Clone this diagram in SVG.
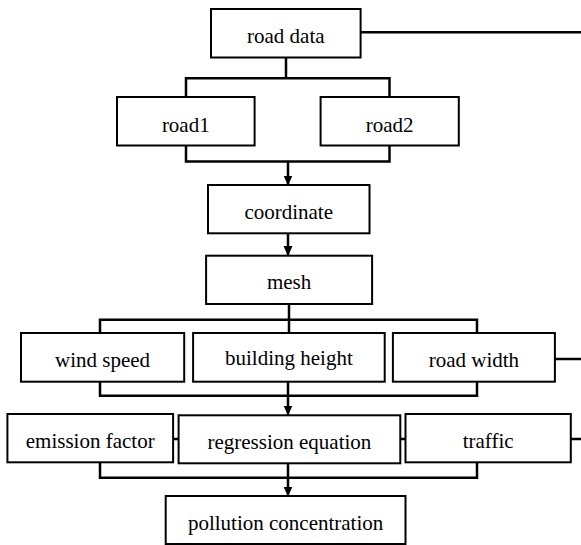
<svg xmlns="http://www.w3.org/2000/svg" width="581" height="545" viewBox="0 0 581 545">
<style>
.box{fill:#fff;stroke:#000;stroke-width:2}
text{font-family:'Liberation Serif','Times New Roman','DejaVu Serif',serif;font-size:21px;fill:#000;text-anchor:middle}
.ln{fill:none;stroke:#000;stroke-width:2.5}
</style>
<defs>
<marker id="ah" markerUnits="userSpaceOnUse" markerWidth="10" markerHeight="10" refX="9" refY="5" orient="auto" viewBox="0 0 10 10">
<path d="M0,0.5 L10,5 L0,9.5 Z" fill="#000"/>
</marker>
</defs>
<rect width="581" height="545" fill="#fff"/>
<g id="connectors">
<path class="ln" d="M360.6,32.3 H581"/>
<path class="ln" d="M286,57.5 V78.3 M186,97 V78.3 H389.5 V97"/>
<path class="ln" d="M186,145.5 V161.5 H389.5 V145.5"/>
<path class="ln" d="M288,161.5 V184.5" marker-end="url(#ah)"/>
<path class="ln" d="M288,233.3 V255" marker-end="url(#ah)"/>
<path class="ln" d="M289,304 V319.7 M100,333 V319.7 H477 V333 M289,319.7 V333"/>
<path class="ln" d="M554.9,359 H581"/>
<path class="ln" d="M100,381.7 V395.7 H477 V381.7"/>
<path class="ln" d="M288,381.7 V414.5" marker-end="url(#ah)"/>
<path class="ln" d="M173.1,439 H178.6 M400.3,439 H405.5 M570.8,439 H581"/>
<path class="ln" d="M100,462.3 V477.7 H477 V462.3"/>
<path class="ln" d="M288,463.3 V495.5" marker-end="url(#ah)"/>
</g>
<g id="road-data"><rect class="box" x="211" y="9" width="149.6" height="48.5"/><text font-family="Liberation Serif, serif" x="285.8" y="43">road data</text></g>
<g id="road1"><rect class="box" x="117" y="97" width="137.6" height="48.5"/><text font-family="Liberation Serif, serif" x="185.8" y="131.5">road1</text></g>
<g id="road2"><rect class="box" x="320.6" y="97" width="138.2" height="48.5"/><text font-family="Liberation Serif, serif" x="389.7" y="131.5">road2</text></g>
<g id="coordinate"><rect class="box" x="208" y="185" width="161.5" height="48.3"/><text font-family="Liberation Serif, serif" x="288.7" y="219.3">coordinate</text></g>
<g id="mesh"><rect class="box" x="206.1" y="255.7" width="166" height="48.3"/><text font-family="Liberation Serif, serif" x="289.1" y="289">mesh</text></g>
<g id="wind-speed"><rect class="box" x="21" y="333" width="163.2" height="48.7"/><text font-family="Liberation Serif, serif" x="102.6" y="366.7">wind speed</text></g>
<g id="building-height"><rect class="box" x="193.1" y="333" width="191.6" height="48.7"/><text font-family="Liberation Serif, serif" x="288.9" y="365">building height</text></g>
<g id="road-width"><rect class="box" x="392.9" y="333" width="162" height="48.7"/><text font-family="Liberation Serif, serif" x="473.9" y="366.7">road width</text></g>
<g id="emission-factor"><rect class="box" x="7.4" y="414" width="165.7" height="48.3"/><text font-family="Liberation Serif, serif" x="90.2" y="448.3">emission factor</text></g>
<g id="regression-equation"><rect class="box" x="178.6" y="415.3" width="221.7" height="48"/><text font-family="Liberation Serif, serif" x="289.4" y="449.3">regression equation</text></g>
<g id="traffic"><rect class="box" x="405.5" y="414" width="165.3" height="48.3"/><text font-family="Liberation Serif, serif" x="488.1" y="448.3">traffic</text></g>
<g id="pollution-concentration"><rect class="box" x="165.7" y="496" width="239.8" height="48"/><text font-family="Liberation Serif, serif" x="285.6" y="530">pollution concentration</text></g>
</svg>
